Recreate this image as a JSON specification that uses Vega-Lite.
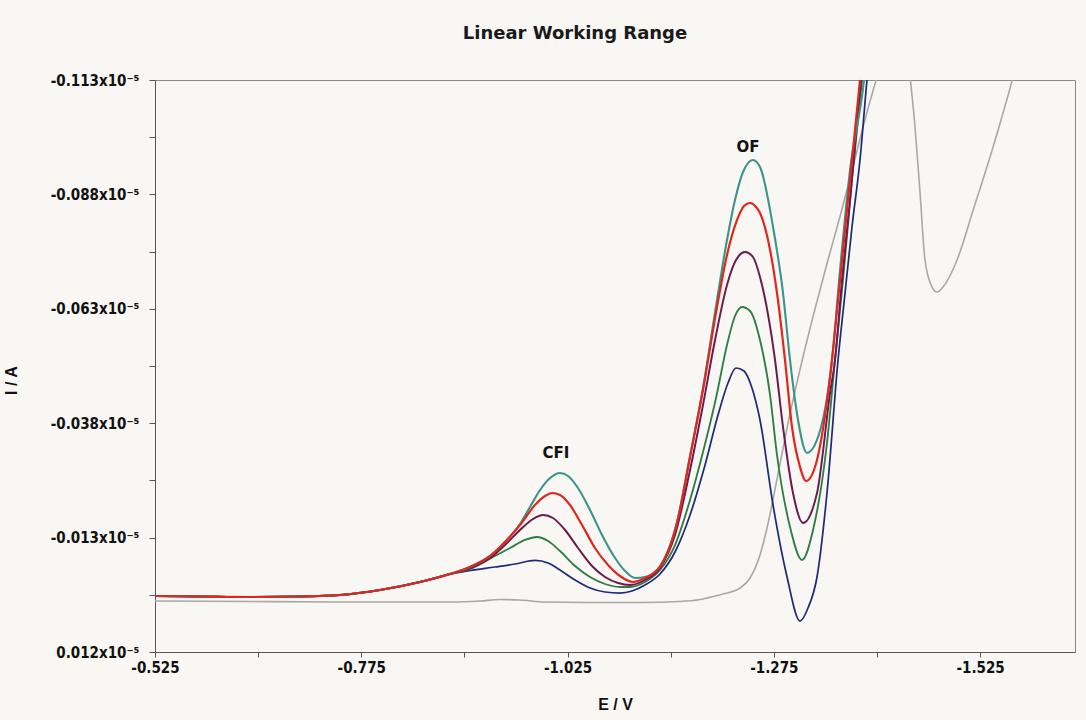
{
  "$schema": "https://vega.github.io/schema/vega-lite/v6.json",
  "width": 920,
  "height": 572,
  "autosize": "none",
  "padding": {"left": 155, "top": 80, "right": 11, "bottom": 68},
  "background": "#f8f7f3",
  "title": {"text": "Linear Working Range", "font": "DejaVu Sans", "fontSize": 18, "fontWeight": "bold", "color": "#1a1a1a", "anchor": "middle", "dx": -40, "offset": 30},
  "config": {
    "view": {"stroke": "#8a8a8a", "strokeWidth": 1},
    "axis": {"grid": false, "domainColor": "#555", "tickColor": "#555", "labelColor": "#111", "titleColor": "#111", "labelFont": "DejaVu Sans Condensed, Liberation Sans, sans-serif", "labelFontWeight": "bold", "labelFontSize": 15, "titleFont": "Liberation Sans, sans-serif", "titleFontWeight": "bold", "titleFontSize": 16}
  },
  "layer": [
    {
      "data": {"values": [
        {"series":"blank","E":-0.525,"I":0.00086},{"series":"blank","E":-0.6402,"I":0.00096},{"series":"blank","E":-0.7614,"I":0.00108},{"series":"blank","E":-0.8826,"I":0.00108},{"series":"blank","E":-0.9189,"I":0.00086},{"series":"blank","E":-0.9432,"I":0.00053},{"series":"blank","E":-0.9674,"I":0.00064},{"series":"blank","E":-0.9977,"I":0.00108},{"series":"blank","E":-1.0644,"I":0.00118},{"series":"blank","E":-1.1129,"I":0.00118},{"series":"blank","E":-1.1614,"I":0.00096},{"series":"blank","E":-1.1856,"I":0.00053},{"series":"blank","E":-1.2038,"I":-0.00024},{"series":"blank","E":-1.2135,"I":-0.00068},{"series":"blank","E":-1.2341,"I":-0.00199},{"series":"blank","E":-1.2462,"I":-0.00417},{"series":"blank","E":-1.2583,"I":-0.0092},{"series":"blank","E":-1.2668,"I":-0.0151},{"series":"blank","E":-1.2826,"I":-0.0292},{"series":"blank","E":-1.2947,"I":-0.04012},{"series":"blank","E":-1.3068,"I":-0.04974},{"series":"blank","E":-1.3226,"I":-0.06132},{"series":"blank","E":-1.3395,"I":-0.07290},{"series":"blank","E":-1.3553,"I":-0.08317},{"series":"blank","E":-1.3711,"I":-0.09410},{"series":"blank","E":-1.3856,"I":-0.10437},{"series":"blank","E":-1.4001,"I":-0.11365},{"series":"blank","E":-1.4098,"I":-0.11956},{"series":"blank","E":-1.4220,"I":-0.12611},{"series":"blank","E":-1.4317,"I":-0.12611},{"series":"blank","E":-1.4402,"I":-0.11365},{"series":"blank","E":-1.4462,"I":-0.10273},{"series":"blank","E":-1.4523,"I":-0.08831},{"series":"blank","E":-1.4583,"I":-0.07366},{"series":"blank","E":-1.4668,"I":-0.06776},{"series":"blank","E":-1.4729,"I":-0.06667},{"series":"blank","E":-1.4802,"I":-0.06776},{"series":"blank","E":-1.4971,"I":-0.07366},{"series":"blank","E":-1.5167,"I":-0.08459},{"series":"blank","E":-1.5408,"I":-0.09836},{"series":"blank","E":-1.565,"I":-0.11365},{"series":"blank","E":-1.5735,"I":-0.11956},

        {"series":"c1","E":-0.525,"I":-0.00024},{"series":"c1","E":-0.5795,"I":-0.00013},{"series":"c1","E":-0.6402,"I":-0.00002},{"series":"c1","E":-0.7008,"I":-0.00013},{"series":"c1","E":-0.7492,"I":-0.00046},{"series":"c1","E":-0.7977,"I":-0.00155},{"series":"c1","E":-0.8462,"I":-0.0033},{"series":"c1","E":-0.8826,"I":-0.00505},
        {"series":"c1","E":-0.9068,"I":-0.00581},{"series":"c1","E":-0.9371,"I":-0.00658},{"series":"c1","E":-0.9614,"I":-0.00723},{"series":"c1","E":-0.9856,"I":-0.008},{"series":"c1","E":-1.0014,"I":-0.00745},{"series":"c1","E":-1.0159,"I":-0.00592},{"series":"c1","E":-1.0341,"I":-0.00373},{"series":"c1","E":-1.0523,"I":-0.00199},{"series":"c1","E":-1.0705,"I":-0.00111},{"series":"c1","E":-1.0886,"I":-0.00089},{"series":"c1","E":-1.1032,"I":-0.00133},{"series":"c1","E":-1.1189,"I":-0.00264},{"series":"c1","E":-1.1371,"I":-0.00505},{"series":"c1","E":-1.1553,"I":-0.00985},{"series":"c1","E":-1.1735,"I":-0.01794},{"series":"c1","E":-1.1917,"I":-0.02887},{"series":"c1","E":-1.2074,"I":-0.03979},{"series":"c1","E":-1.2195,"I":-0.04678},{"series":"c1","E":-1.2292,"I":-0.05006},{"series":"c1","E":-1.2389,"I":-0.04941},{"series":"c1","E":-1.2486,"I":-0.04569},{"series":"c1","E":-1.2583,"I":-0.0387},{"series":"c1","E":-1.2741,"I":-0.02012},{"series":"c1","E":-1.2911,"I":-0.00439},{"series":"c1","E":-1.3068,"I":0.00523},{"series":"c1","E":-1.3165,"I":0.00238},{"series":"c1","E":-1.3274,"I":-0.00439},{"series":"c1","E":-1.3395,"I":-0.02275},{"series":"c1","E":-1.3529,"I":-0.05181},{"series":"c1","E":-1.3614,"I":-0.06645},{"series":"c1","E":-1.3698,"I":-0.08088},{"series":"c1","E":-1.3795,"I":-0.09552},{"series":"c1","E":-1.388,"I":-0.113},{"series":"c1","E":-1.3917,"I":-0.11956},

        {"series":"c2","E":-0.525,"I":-0.00024},{"series":"c2","E":-0.5795,"I":-0.00013},{"series":"c2","E":-0.6402,"I":-0.00002},{"series":"c2","E":-0.7008,"I":-0.00013},{"series":"c2","E":-0.7492,"I":-0.00046},{"series":"c2","E":-0.7977,"I":-0.00155},{"series":"c2","E":-0.8462,"I":-0.0033},{"series":"c2","E":-0.8826,"I":-0.00505},
        {"series":"c2","E":-0.9068,"I":-0.00614},{"series":"c2","E":-0.9347,"I":-0.00876},{"series":"c2","E":-0.9553,"I":-0.01073},{"series":"c2","E":-0.9735,"I":-0.01248},{"series":"c2","E":-0.988,"I":-0.01313},{"series":"c2","E":-1.0014,"I":-0.01226},{"series":"c2","E":-1.0159,"I":-0.01007},{"series":"c2","E":-1.0341,"I":-0.00679},{"series":"c2","E":-1.0523,"I":-0.00439},{"series":"c2","E":-1.0705,"I":-0.00286},{"series":"c2","E":-1.0886,"I":-0.0022},{"series":"c2","E":-1.1008,"I":-0.0022},{"series":"c2","E":-1.1189,"I":-0.0033},{"series":"c2","E":-1.1371,"I":-0.00592},{"series":"c2","E":-1.1553,"I":-0.01138},{"series":"c2","E":-1.1735,"I":-0.02122},{"series":"c2","E":-1.1892,"I":-0.03171},{"series":"c2","E":-1.205,"I":-0.04351},{"series":"c2","E":-1.2183,"I":-0.05509},{"series":"c2","E":-1.228,"I":-0.06143},{"series":"c2","E":-1.2365,"I":-0.06339},{"series":"c2","E":-1.2462,"I":-0.06252},{"series":"c2","E":-1.2583,"I":-0.05618},{"series":"c2","E":-1.2705,"I":-0.04416},{"series":"c2","E":-1.2789,"I":-0.03105},{"series":"c2","E":-1.2947,"I":-0.01532},{"series":"c2","E":-1.3092,"I":-0.00811},{"series":"c2","E":-1.3226,"I":-0.01466},{"series":"c2","E":-1.3395,"I":-0.03367},{"series":"c2","E":-1.3492,"I":-0.05181},{"series":"c2","E":-1.3589,"I":-0.06929},{"series":"c2","E":-1.3698,"I":-0.09115},{"series":"c2","E":-1.382,"I":-0.113},{"series":"c2","E":-1.3868,"I":-0.12174},

        {"series":"c3","E":-0.525,"I":-0.00024},{"series":"c3","E":-0.5795,"I":-0.00013},{"series":"c3","E":-0.6402,"I":-0.00002},{"series":"c3","E":-0.7008,"I":-0.00013},{"series":"c3","E":-0.7492,"I":-0.00046},{"series":"c3","E":-0.7977,"I":-0.00155},{"series":"c3","E":-0.8462,"I":-0.0033},{"series":"c3","E":-0.8826,"I":-0.00505},
        {"series":"c3","E":-0.9068,"I":-0.00636},{"series":"c3","E":-0.9311,"I":-0.00854},{"series":"c3","E":-0.9517,"I":-0.01182},{"series":"c3","E":-0.9674,"I":-0.01466},{"series":"c3","E":-0.9832,"I":-0.01707},{"series":"c3","E":-0.9953,"I":-0.01794},{"series":"c3","E":-1.0074,"I":-0.01728},{"series":"c3","E":-1.022,"I":-0.01466},{"series":"c3","E":-1.0377,"I":-0.01073},{"series":"c3","E":-1.0547,"I":-0.00679},{"series":"c3","E":-1.0705,"I":-0.00439},{"series":"c3","E":-1.0862,"I":-0.00308},{"series":"c3","E":-1.1008,"I":-0.00264},{"series":"c3","E":-1.1189,"I":-0.00373},{"series":"c3","E":-1.1371,"I":-0.00636},{"series":"c3","E":-1.1553,"I":-0.01357},{"series":"c3","E":-1.1735,"I":-0.02777},{"series":"c3","E":-1.1892,"I":-0.04198},{"series":"c3","E":-1.2038,"I":-0.05618},{"series":"c3","E":-1.2183,"I":-0.0682},{"series":"c3","E":-1.2292,"I":-0.07366},{"series":"c3","E":-1.2402,"I":-0.07541},{"series":"c3","E":-1.2498,"I":-0.07432},{"series":"c3","E":-1.2583,"I":-0.06995},{"series":"c3","E":-1.2765,"I":-0.05181},{"series":"c3","E":-1.2862,"I":-0.03717},{"series":"c3","E":-1.2983,"I":-0.02275},{"series":"c3","E":-1.3105,"I":-0.01619},{"series":"c3","E":-1.3274,"I":-0.02275},{"series":"c3","E":-1.3432,"I":-0.0446},{"series":"c3","E":-1.3492,"I":-0.05181},{"series":"c3","E":-1.3577,"I":-0.06929},{"series":"c3","E":-1.3674,"I":-0.08678},{"series":"c3","E":-1.3807,"I":-0.113},{"series":"c3","E":-1.3856,"I":-0.12174},

        {"series":"c5","E":-0.525,"I":-0.00024},{"series":"c5","E":-0.5795,"I":-0.00013},{"series":"c5","E":-0.6402,"I":-0.00002},{"series":"c5","E":-0.7008,"I":-0.00013},{"series":"c5","E":-0.7492,"I":-0.00046},{"series":"c5","E":-0.7977,"I":-0.00155},{"series":"c5","E":-0.8462,"I":-0.0033},{"series":"c5","E":-0.8826,"I":-0.00505},
        {"series":"c5","E":-0.9068,"I":-0.00658},{"series":"c5","E":-0.9311,"I":-0.00898},{"series":"c5","E":-0.9492,"I":-0.01204},{"series":"c5","E":-0.9674,"I":-0.01597},{"series":"c5","E":-0.9795,"I":-0.01969},{"series":"c5","E":-0.9917,"I":-0.0234},{"series":"c5","E":-1.0038,"I":-0.02602},{"series":"c5","E":-1.0159,"I":-0.02712},{"series":"c5","E":-1.0256,"I":-0.02646},{"series":"c5","E":-1.0377,"I":-0.02384},{"series":"c5","E":-1.0523,"I":-0.01903},{"series":"c5","E":-1.0668,"I":-0.01357},{"series":"c5","E":-1.0826,"I":-0.00854},{"series":"c5","E":-1.0947,"I":-0.0057},{"series":"c5","E":-1.1068,"I":-0.00417},{"series":"c5","E":-1.1189,"I":-0.00439},{"series":"c5","E":-1.1371,"I":-0.00679},{"series":"c5","E":-1.1577,"I":-0.01641},{"series":"c5","E":-1.1735,"I":-0.03083},{"series":"c5","E":-1.1892,"I":-0.04569},{"series":"c5","E":-1.2062,"I":-0.06492},{"series":"c5","E":-1.2183,"I":-0.07804},{"series":"c5","E":-1.228,"I":-0.08678},{"series":"c5","E":-1.2377,"I":-0.0929},{"series":"c5","E":-1.2498,"I":-0.09552},{"series":"c5","E":-1.2583,"I":-0.09399},{"series":"c5","E":-1.2741,"I":-0.08088},{"series":"c5","E":-1.2862,"I":-0.06645},{"series":"c5","E":-1.2947,"I":-0.05181},{"series":"c5","E":-1.3044,"I":-0.0387},{"series":"c5","E":-1.3153,"I":-0.03149},{"series":"c5","E":-1.3274,"I":-0.03433},{"series":"c5","E":-1.3456,"I":-0.05181},{"series":"c5","E":-1.3553,"I":-0.07148},{"series":"c5","E":-1.3674,"I":-0.09333},{"series":"c5","E":-1.3844,"I":-0.113},{"series":"c5","E":-1.3892,"I":-0.12174},

        {"series":"c4","E":-0.525,"I":-0.00024},{"series":"c4","E":-0.5795,"I":-0.00013},{"series":"c4","E":-0.6402,"I":-0.00002},{"series":"c4","E":-0.7008,"I":-0.00013},{"series":"c4","E":-0.7492,"I":-0.00046},{"series":"c4","E":-0.7977,"I":-0.00155},{"series":"c4","E":-0.8462,"I":-0.0033},{"series":"c4","E":-0.8826,"I":-0.00505},
        {"series":"c4","E":-0.9068,"I":-0.00658},{"series":"c4","E":-0.9311,"I":-0.00898},{"series":"c4","E":-0.9492,"I":-0.01204},{"series":"c4","E":-0.9674,"I":-0.01575},{"series":"c4","E":-0.9856,"I":-0.02012},{"series":"c4","E":-0.9977,"I":-0.02209},{"series":"c4","E":-1.0062,"I":-0.02275},{"series":"c4","E":-1.0159,"I":-0.02231},{"series":"c4","E":-1.028,"I":-0.02012},{"series":"c4","E":-1.0426,"I":-0.01575},{"series":"c4","E":-1.0583,"I":-0.01073},{"series":"c4","E":-1.0741,"I":-0.00701},{"series":"c4","E":-1.0886,"I":-0.00461},{"series":"c4","E":-1.1044,"I":-0.0033},{"series":"c4","E":-1.1189,"I":-0.00417},{"series":"c4","E":-1.1371,"I":-0.00658},{"series":"c4","E":-1.1577,"I":-0.01619},{"series":"c4","E":-1.1735,"I":-0.03062},{"series":"c4","E":-1.1892,"I":-0.04525},{"series":"c4","E":-1.2062,"I":-0.06339},{"series":"c4","E":-1.2183,"I":-0.07476},{"series":"c4","E":-1.2305,"I":-0.08241},{"series":"c4","E":-1.2389,"I":-0.08546},{"series":"c4","E":-1.2462,"I":-0.08612},{"series":"c4","E":-1.2535,"I":-0.08525},{"series":"c4","E":-1.2583,"I":-0.08393},{"series":"c4","E":-1.2705,"I":-0.07585},{"series":"c4","E":-1.2789,"I":-0.06645},{"series":"c4","E":-1.2886,"I":-0.05181},{"series":"c4","E":-1.2971,"I":-0.03717},{"series":"c4","E":-1.3068,"I":-0.02843},{"series":"c4","E":-1.3141,"I":-0.02537},{"series":"c4","E":-1.3274,"I":-0.02996},{"series":"c4","E":-1.3432,"I":-0.0481},{"series":"c4","E":-1.3553,"I":-0.06929},{"series":"c4","E":-1.365,"I":-0.08678},{"series":"c4","E":-1.3795,"I":-0.113},{"series":"c4","E":-1.3844,"I":-0.12174}
      ]},
      "mark": {"type": "line", "interpolate": "monotone", "clip": true},
      "encoding": {
        "x": {"field": "E", "type": "quantitative",
          "scale": {"domain": [-1.6401, -0.525], "reverse": true, "nice": false, "zero": false},
          "axis": {"title": "E / V", "values": [-0.525,-0.65,-0.775,-0.9,-1.025,-1.15,-1.275,-1.4,-1.525],
            "labelExpr": "indexof([-525,-775,-1025,-1275,-1525], round(datum.value*1000)) >= 0 ? replace(format(datum.value, '.3f'), '\u2212', '-') : ''",
            "tickSize": 5, "labelPadding": 3, "titleY": 44, "labelFlush": false}},
        "y": {"field": "I", "type": "quantitative",
          "scale": {"domain": [-0.113, 0.012], "reverse": true, "nice": false, "zero": false},
          "axis": {"title": "I / A", "values": [0.012,-0.0005,-0.013,-0.0255,-0.038,-0.0505,-0.063,-0.0755,-0.088,-0.1005,-0.113],
            "labelExpr": "indexof([12,-13,-38,-63,-88,-113], round(datum.value*1000)) >= 0 ? replace(format(datum.value, '.3f'), '\u2212', '-') + 'x10⁻⁵' : ''",
            "tickSize": 6, "labelPadding": 10, "titleX": -136, "titleY": 300, "labelFlush": false}},
        "color": {"field": "series", "type": "nominal", "legend": null,
          "scale": {"domain": ["blank","c1","c2","c3","c5","c4"], "range": ["#a8a8a8","#1f2a78","#2e7d45","#6a1b4d","#3a948a","#e2261d"]}},
        "strokeWidth": {"field": "series", "type": "nominal", "legend": null,
          "scale": {"domain": ["blank","c1","c2","c3","c5","c4"], "range": [1.6,2.2,2.2,2.4,2.2,2.8]}}
      }
    },
    {
      "data": {"values": [
        {"label": "CFI", "E": -1.011, "I": -0.0315},
        {"label": "OF", "E": -1.2438, "I": -0.0984}
      ]},
      "mark": {"type": "text", "font": "DejaVu Sans", "fontWeight": "bold", "fontSize": 15, "align": "center", "baseline": "middle", "color": "#111"},
      "encoding": {
        "x": {"field": "E", "type": "quantitative"},
        "y": {"field": "I", "type": "quantitative"},
        "text": {"field": "label", "type": "nominal"}
      }
    }
  ]
}
